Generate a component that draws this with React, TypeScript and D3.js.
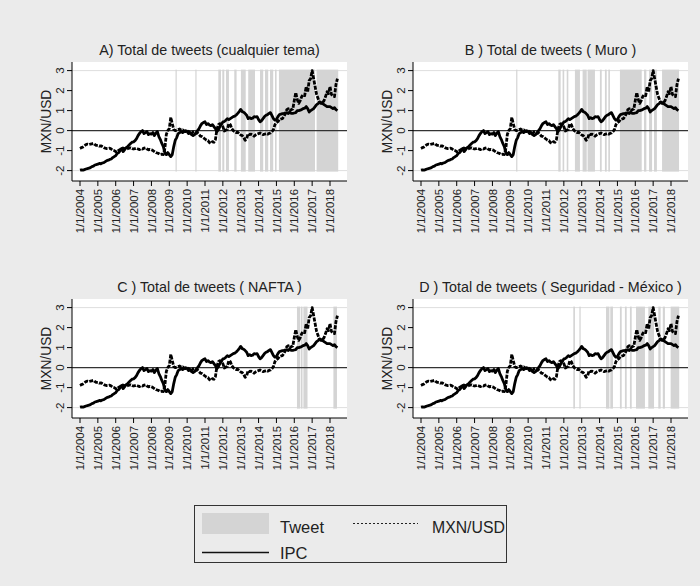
import React from 'react';
import * as d3 from 'd3';

// Monthly values, Jan 2004 .. Jun 2018 (standardized)
const startYear = 2004;

const ipc = [
  -1.98, -1.96, -1.98, -1.95, -1.92, -1.9, -1.88, -1.85, -1.8, -1.78, -1.72, -1.7,
  -1.68, -1.64, -1.66, -1.62, -1.6, -1.55, -1.5, -1.48, -1.44, -1.42, -1.35, -1.3,
  -1.25, -1.14, -1.1, -1.0, -0.89, -1.05, -0.95, -0.85, -0.8, -0.72, -0.65, -0.58,
  -0.56, -0.5, -0.4, -0.25, -0.14, -0.05, 0.0, -0.15, -0.1, -0.05, -0.2, -0.15,
  -0.18, -0.1, -0.25, -0.12, -0.05, -0.3, -0.45, -0.64, -0.8, -1.1, -1.2, -1.1,
  -1.2, -1.3, -1.2, -0.8, -0.48, -0.35, -0.15, -0.1, -0.05, -0.1, -0.05, 0.0,
  -0.05, -0.15, -0.1, -0.2, -0.25, -0.2, -0.1, 0.0, 0.1, 0.25, 0.36, 0.4,
  0.44, 0.3, 0.35, 0.28, 0.25, 0.3, 0.2, 0.1, -0.05, 0.05, 0.2, 0.3,
  0.44, 0.45, 0.52, 0.6, 0.55, 0.6, 0.65, 0.7, 0.72, 0.78, 0.86, 0.95,
  1.06, 0.95, 0.92, 0.85, 0.77, 0.6, 0.65, 0.6, 0.62, 0.7, 0.68, 0.7,
  0.55, 0.44, 0.5, 0.6, 0.7, 0.77, 0.8, 0.86, 0.9, 0.75, 0.6, 0.52,
  0.55, 0.7, 0.8, 0.82, 0.85, 0.86, 0.88, 0.9, 0.85, 0.93, 0.86, 0.86,
  0.88, 0.9, 1.0, 1.0, 1.02, 1.06, 1.1, 1.12, 1.2, 1.1, 0.93, 1.0,
  1.05, 1.1, 1.2, 1.3, 1.35, 1.43, 1.4, 1.36, 1.3, 1.25, 1.2, 1.2,
  1.2, 1.15, 1.1, 1.15, 1.05, 1.0,
];

const mxn = [
  -0.89, -0.85, -0.82, -0.77, -0.7, -0.68, -0.7, -0.68, -0.66, -0.64, -0.7, -0.74,
  -0.74, -0.78, -0.76, -0.8, -0.85, -0.88, -0.9, -0.9, -0.88, -0.92, -0.98, -1.0,
  -1.05, -1.06, -0.98, -0.95, -0.86, -0.88, -0.9, -0.93, -0.9, -0.88, -0.86, -0.9,
  -0.92, -0.9, -0.88, -0.92, -0.95, -0.9, -0.92, -0.88, -0.86, -0.92, -0.96, -0.94,
  -0.96, -1.0, -1.05, -1.1, -1.12, -1.15, -1.2, -1.18, -1.2, -0.9, -0.2, 0.0,
  0.1, 0.66, 0.35, 0.05, 0.0, 0.02, 0.05, 0.08, 0.02, 0.04, -0.02, -0.05,
  -0.02, -0.04, -0.12, -0.18, -0.05, -0.1, -0.14, -0.12, -0.2, -0.28, -0.3, -0.36,
  -0.42, -0.48, -0.5, -0.6, -0.64, -0.55, -0.58, -0.45, 0.05, 0.3, 0.35, 0.28,
  0.2, -0.02, 0.03, 0.05, 0.35, 0.3, 0.1, 0.0, -0.05, -0.1, -0.08, -0.15,
  -0.22, -0.25, -0.35, -0.48, -0.4, -0.15, -0.2, -0.18, -0.22, -0.28, -0.22, -0.18,
  -0.15, -0.12, -0.15, -0.2, -0.18, -0.15, -0.18, -0.14, -0.12, -0.05, 0.05, 0.3,
  0.4, 0.45, 0.55, 0.58, 0.6, 0.7, 0.85, 1.05, 1.1, 1.0, 1.05, 1.08,
  1.5, 1.9, 1.55, 1.36, 1.5, 1.7, 1.8, 1.75, 2.2, 1.94, 2.5, 2.6,
  3.0, 2.6, 2.2, 1.8, 1.6, 1.4, 1.36, 1.4, 1.5, 1.7, 1.94, 1.85,
  2.2, 1.8, 1.75, 1.7, 2.3, 2.6,
];

// Tweet periods (decimal years: start, end)
const tweetsA = [
  [2009.35, 2009.40], [2010.46, 2010.51], [2011.745, 2011.895], [2011.97, 2012.08],
  [2012.175, 2012.34], [2012.64, 2012.77], [2013.01, 2013.28], [2013.42, 2013.8],
  [2014.08, 2014.26], [2014.36, 2014.54], [2014.64, 2014.82], [2014.92, 2015.01],
  [2015.14, 2017.16], [2017.25, 2018.46],
];
const tweetsB = [
  [2009.33, 2009.39], [2011.69, 2011.82], [2011.93, 2012.02], [2012.16, 2012.25],
  [2012.62, 2012.9], [2013.05, 2013.28], [2013.33, 2013.74], [2014.02, 2014.12],
  [2014.3, 2014.4], [2014.49, 2014.58], [2015.14, 2016.36], [2016.49, 2016.62],
  [2016.77, 2016.94], [2017.05, 2017.21], [2017.5, 2018.45],
];
const tweetsC = [
  [2016.15, 2016.32], [2016.36, 2016.46], [2016.51, 2016.74], [2018.19, 2018.39],
];
const tweetsD = [
  [2012.53, 2012.62], [2012.87, 2012.94], [2014.36, 2014.55], [2014.6, 2014.75],
  [2015.14, 2015.24], [2015.42, 2015.52], [2015.7, 2015.8], [2016.04, 2016.54],
  [2016.73, 2017.05], [2017.29, 2017.42], [2017.54, 2017.66], [2017.98, 2018.46],
];

const titles = [
  'A) Total de tweets (cualquier tema)',
  'B ) Total de tweets ( Muro )',
  'C ) Total de tweets ( NAFTA )',
  'D ) Total de tweets ( Seguridad - México )',
];
const yTicks = [-2, -1, 0, 1, 2, 3];
const xTickYears = d3.range(2004, 2019);
const yAxisTitle = 'MXN/USD';
const legendLabels = ['Tweet', 'MXN/USD', 'IPC'];

const FONT = "'Liberation Sans', Arial, Helvetica, sans-serif";

const L = 72, R = 347, T = 62, B = 181;

function Panel({ title, tweets, dx, dy }: { title: string; tweets: number[][]; dx: number; dy: number }) {
  const x = d3.scaleLinear().domain([2003.552, 2018.952]).range([L, R]);
  const y = d3.scaleLinear().domain([-2.52, 3.43]).range([B, T]);
  const dates = ipc.map((_, i) => startYear + i / 12);
  const line = d3.line<number>().x((_, i) => x(dates[i])).y((v) => y(v));
  const cx = (L + R) / 2;
  const cy = (T + B) / 2;
  return (
    <g transform={`translate(${dx},${dy})`}>
      <rect x={L} y={T} width={R - L} height={B - T} fill="#ffffff" />
      <line x1={L} x2={R} y1={y(3)} y2={y(3)} stroke="#dedede" strokeWidth={1} />
      <line x1={L} x2={R} y1={y(-2)} y2={y(-2)} stroke="#dedede" strokeWidth={1} />
      {tweets.map(([s, e], i) => (
        <rect key={i} x={x(s)} y={y(3.05)} width={Math.max(1.2, x(e) - x(s))}
          height={y(-2.05) - y(3.05)} fill="#d4d4d4" />
      ))}
      <line x1={L} x2={R} y1={y(0)} y2={y(0)} stroke="#333" strokeWidth={1.2} />
      <path d={line(mxn) || ''} fill="none" stroke="#000" strokeWidth={2.8} strokeDasharray="4,1.3" strokeLinejoin="round" />
      <path d={line(ipc) || ''} fill="none" stroke="#000" strokeWidth={2.8} strokeLinejoin="round" />
      {/* axes */}
      <line x1={L} x2={L} y1={T} y2={B} stroke="#000" strokeWidth={1} />
      <line x1={L} x2={R} y1={B} y2={B} stroke="#000" strokeWidth={1} />
      {yTicks.map((t) => (
        <g key={t}>
          <line x1={L - 5} x2={L} y1={y(t)} y2={y(t)} stroke="#000" />
          <text transform={`translate(${L - 12},${y(t)}) rotate(-90)`} textAnchor="middle" dy="0.36em"
            fontSize={11.5} fontFamily={FONT} fill="#222">{t}</text>
        </g>
      ))}
      {xTickYears.map((yr) => (
        <g key={yr}>
          <line x1={x(yr)} x2={x(yr)} y1={B} y2={B + 5} stroke="#000" />
          <text transform={`translate(${x(yr)},${B + 8}) rotate(-90)`} textAnchor="end" dy="0.36em"
            fontSize={11.4} fontFamily={FONT} fill="#222">{`1/1/${yr}`}</text>
        </g>
      ))}
      <text transform={`translate(${L - 26},${cy}) rotate(-90)`} textAnchor="middle" dy="0.36em"
        fontSize={13.8} fontFamily={FONT} fill="#222">{yAxisTitle}</text>
      <text x={cx} y={55} textAnchor="middle" fontSize={14.3} fontFamily={FONT} fill="#222">{title}</text>
    </g>
  );
}

export default function App() {
  const panels = [
    { title: titles[0], tweets: tweetsA, dx: 0, dy: 0 },
    { title: titles[1], tweets: tweetsB, dx: 341, dy: 0 },
    { title: titles[2], tweets: tweetsC, dx: 0, dy: 237 },
    { title: titles[3], tweets: tweetsD, dx: 341, dy: 237 },
  ];
  return (
    <svg width={700} height={586} style={{ position: 'absolute', left: 0, top: 0 }}>
      <rect width={700} height={586} fill="#ebebeb" />
      {panels.map((p, i) => (
        <Panel key={i} {...p} />
      ))}
      <g>
        <rect x={194.5} y={505.5} width={312} height={57} fill="#ebebeb" stroke="#333" strokeWidth={1} />
        <rect x={202} y={513} width={67} height={21} fill="#d4d4d4" />
        <text x={280} y={533} fontSize={16.5} fontFamily={FONT} fill="#222">{legendLabels[0]}</text>
        <line x1={353} x2={418} y1={523.5} y2={523.5} stroke="#222" strokeWidth={1.2} strokeDasharray="2,2" />
        <text x={432} y={533} fontSize={15.8} fontFamily={FONT} fill="#222">{legendLabels[1]}</text>
        <line x1={202} x2={269} y1={552.5} y2={552.5} stroke="#111" strokeWidth={1.5} />
        <text x={280} y={559} fontSize={16.5} fontFamily={FONT} fill="#222">{legendLabels[2]}</text>
      </g>
    </svg>
  );
}
